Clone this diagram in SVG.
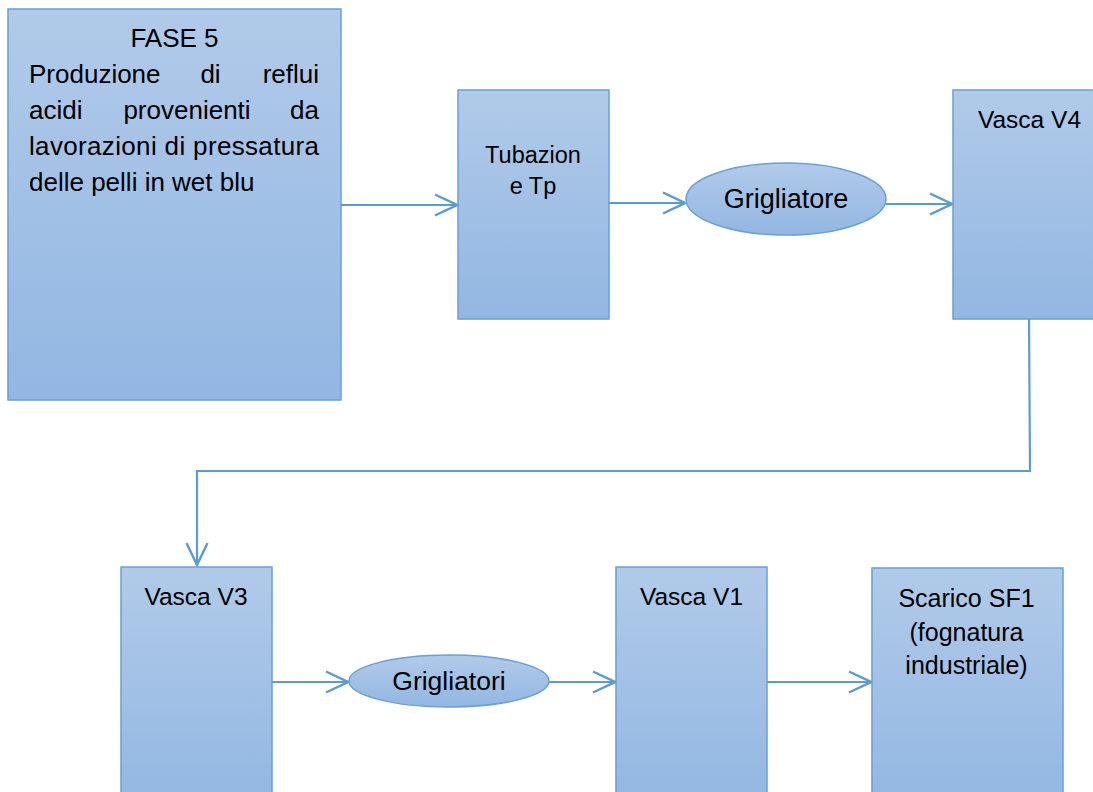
<svg xmlns="http://www.w3.org/2000/svg" width="1093" height="792" viewBox="0 0 1093 792">
<style>
.box{fill:url(#g);stroke:#6A9FD8;stroke-width:1.5}
.t{font-family:"Liberation Sans",Arial,sans-serif;fill:#000}
.c{fill:none;stroke:#5B9BD5;stroke-width:2.2;marker-end:url(#a)}
</style>
<defs>
<linearGradient id="g" x1="0" y1="0" x2="0" y2="1">
<stop offset="0" stop-color="#B1CAE9"/>
<stop offset="1" stop-color="#92B7E2"/>
</linearGradient>
<marker id="a" markerUnits="userSpaceOnUse" markerWidth="26" markerHeight="26" viewBox="-24 -12 26 24" refX="0" refY="0" orient="auto">
<path d="M-22,-10.5 L0,0 L-22,10.5" fill="none" stroke="#5B9BD5" stroke-width="2.4"/>
</marker>
</defs>
<rect width="1093" height="792" fill="#fff"/>
<g id="connectors">
<path class="c" d="M341,205 H457"/>
<path class="c" d="M609,203 H685"/>
<path class="c" d="M886,204 H952"/>
<path class="c" d="M1029,319 L1030,471 H197 V565"/>
<path class="c" d="M272,682 H348"/>
<path class="c" d="M549,682 H615"/>
<path class="c" d="M767,682 H871"/>
</g>
<g id="fase5">
<rect class="box" x="8" y="9" width="333" height="391"/>
<text class="t" font-size="26" x="174.5" y="47" text-anchor="middle">FASE 5</text>
<text class="t" font-size="26" y="83"><tspan x="29">Produzione</tspan><tspan x="210.5" text-anchor="middle">di</tspan><tspan x="319" text-anchor="end">reflui</tspan></text>
<text class="t" font-size="26" y="119"><tspan x="29">acidi</tspan><tspan x="187" text-anchor="middle">provenienti</tspan><tspan x="319" text-anchor="end">da</tspan></text>
<text class="t" font-size="26" x="29" y="155" textLength="290" lengthAdjust="spacing">lavorazioni di pressatura</text>
<text class="t" font-size="26" x="29" y="191">delle pelli in wet blu</text>
</g>
<g id="tubazione">
<rect class="box" x="458" y="90" width="151" height="229"/>
<text class="t" font-size="23.5" x="533" y="163" text-anchor="middle">Tubazion</text>
<text class="t" font-size="23.5" x="533" y="194" text-anchor="middle">e Tp</text>
</g>
<g id="grigliatore">
<ellipse class="box" cx="786" cy="199" rx="100" ry="36"/>
<text class="t" font-size="27" x="786" y="208" text-anchor="middle">Grigliatore</text>
</g>
<g id="vascaV4">
<rect class="box" x="953" y="90" width="152" height="229"/>
<text class="t" font-size="24.5" x="1029.5" y="128" text-anchor="middle">Vasca V4</text>
</g>
<g id="vascaV3">
<rect class="box" x="121" y="567" width="151" height="240"/>
<text class="t" font-size="24.5" x="196" y="605" text-anchor="middle">Vasca V3</text>
</g>
<g id="grigliatori">
<ellipse class="box" cx="449" cy="681" rx="100" ry="26"/>
<text class="t" font-size="26.5" x="449" y="690" text-anchor="middle">Grigliatori</text>
</g>
<g id="vascaV1">
<rect class="box" x="616" y="567" width="151" height="240"/>
<text class="t" font-size="24.5" x="691.5" y="605" text-anchor="middle">Vasca V1</text>
</g>
<g id="scarico">
<rect class="box" x="872" y="568" width="191" height="240"/>
<text class="t" font-size="25" x="966.5" y="607" text-anchor="middle">Scarico SF1</text>
<text class="t" font-size="25" x="966.5" y="641" text-anchor="middle">(fognatura</text>
<text class="t" font-size="25" x="966.5" y="674" text-anchor="middle">industriale)</text>
</g>
</svg>
